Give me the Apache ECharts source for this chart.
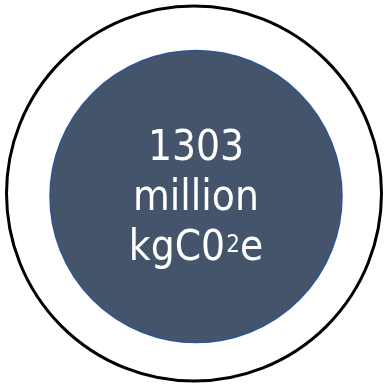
<!DOCTYPE html>
<html>
<head>
<meta charset="utf-8">
<style>
  html, body { margin: 0; padding: 0; background: #ffffff; }
  #chart { width: 385px; height: 389px; }
</style>
<script src="https://cdn.jsdelivr.net/npm/echarts@6/dist/echarts.min.js"></script>
</head>
<body>
<div id="chart"></div>
<script>
// Total footprint shown as a single bubble inside a ring
const categories = ['Total emissions'];
const values = [1303];
const unitLines = ['million', 'kgC0²e'];

const chart = echarts.init(document.getElementById('chart'), null, { renderer: 'canvas' });

const fontFamily = '"DejaVu Sans Condensed", "DejaVu Sans", sans-serif';

// turn the superscript character into a raised, smaller rich-text token
function richLine(line) {
  return line.split('²').map(part => part ? '{u|' + part + '}' : '').join('{s|2}');
}

chart.setOption({
  animation: false,
  backgroundColor: '#ffffff',
  series: [
    {
      // outer frame ring
      type: 'pie',
      silent: true,
      center: [194, 193.5],
      radius: [0, 187.5],
      label: { show: false },
      labelLine: { show: false },
      itemStyle: { color: '#ffffff', borderColor: '#000000', borderWidth: 3 },
      emphasis: { disabled: true },
      data: categories.map((c, i) => ({ name: c, value: values[i] }))
    },
    {
      // filled bubble with the total
      type: 'pie',
      silent: true,
      center: [196, 196.5],
      radius: [0, 146],
      labelLine: { show: false },
      itemStyle: { color: '#44546A', borderColor: '#2F5597', borderWidth: 1.5 },
      emphasis: { disabled: true },
      label: {
        show: true,
        position: 'center',
        align: 'center',
        padding: [6, 0, 0, 0],
        formatter: (p) => [String(p.value)].concat(unitLines).map(richLine).join('\n'),
        rich: {
          u: { color: '#ffffff', fontFamily: fontFamily, fontSize: 42, lineHeight: 50 },
          s: {
            color: '#ffffff', fontFamily: fontFamily, fontSize: 24, lineHeight: 50,
            verticalAlign: 'top', padding: [9, 0, 0, 1]
          }
        }
      },
      data: categories.map((c, i) => ({ name: c, value: values[i] }))
    }
  ]
});
</script>
</body>
</html>
